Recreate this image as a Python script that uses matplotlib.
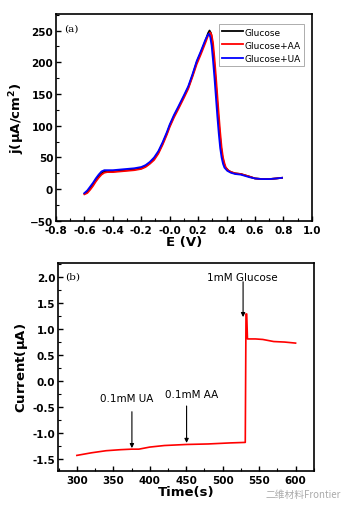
import numpy as np
import matplotlib
matplotlib.use("Agg")
import matplotlib.pyplot as plt

# ---- Data: panel (a) CV curves ----
E_glu = [-0.60, -0.58, -0.56, -0.54, -0.52, -0.50, -0.48, -0.46, -0.44, -0.40, -0.35, -0.30, -0.25, -0.20, -0.17, -0.14, -0.11, -0.08, -0.05, -0.02, 0.00, 0.03, 0.06, 0.10, 0.13, 0.16, 0.19, 0.22, 0.25, 0.27, 0.28, 0.29, 0.30, 0.31, 0.32, 0.33, 0.34, 0.35, 0.36, 0.37, 0.38, 0.39, 0.41, 0.43, 0.46, 0.50, 0.53, 0.56, 0.60, 0.65, 0.70, 0.75, 0.79]
j_glu = [-7, -4, 1, 7, 14, 20, 25, 28, 28, 28, 29, 30, 31, 33, 36, 41, 48, 58, 72, 88, 100, 115, 128, 146, 160, 179, 200, 216, 233, 246, 250, 246, 232, 208, 180, 150, 120, 92, 68, 52, 42, 35, 30, 27, 25, 24, 22, 20, 17, 16, 16, 17, 18]
E_aa = [-0.60, -0.58, -0.56, -0.54, -0.52, -0.50, -0.48, -0.46, -0.44, -0.40, -0.35, -0.30, -0.25, -0.20, -0.17, -0.14, -0.11, -0.08, -0.05, -0.02, 0.00, 0.03, 0.06, 0.10, 0.13, 0.16, 0.19, 0.22, 0.25, 0.27, 0.285, 0.295, 0.305, 0.315, 0.325, 0.335, 0.345, 0.355, 0.365, 0.375, 0.385, 0.395, 0.415, 0.435, 0.46, 0.50, 0.53, 0.56, 0.60, 0.65, 0.70, 0.75, 0.79]
j_aa = [-8, -6, -1, 5, 12, 18, 23, 26, 27, 27, 28, 29, 30, 32, 35, 40, 46, 56, 70, 86, 98, 113, 126, 144, 158, 177, 197, 213, 230, 242, 247, 243, 230, 206, 178, 148, 118, 90, 66, 50, 41, 34, 29, 27, 25, 24, 22, 20, 17, 16, 16, 17, 18]
E_ua = [-0.60, -0.58, -0.56, -0.54, -0.52, -0.50, -0.48, -0.46, -0.44, -0.40, -0.35, -0.30, -0.25, -0.20, -0.17, -0.14, -0.11, -0.08, -0.05, -0.02, 0.00, 0.03, 0.06, 0.10, 0.13, 0.16, 0.19, 0.22, 0.25, 0.265, 0.275, 0.285, 0.295, 0.305, 0.315, 0.325, 0.335, 0.345, 0.355, 0.365, 0.375, 0.385, 0.405, 0.43, 0.46, 0.50, 0.53, 0.56, 0.60, 0.65, 0.70, 0.75, 0.79]
j_ua = [-6, -2, 4, 10, 17, 23, 28, 30, 30, 30, 31, 32, 33, 35, 38, 43, 50, 60, 74, 90, 102, 117, 130, 148, 162, 181, 202, 218, 235, 242, 245, 240, 226, 202, 175, 145, 115, 88, 65, 50, 40, 34, 29, 26, 24, 23, 21, 19, 17, 16, 16, 17, 18]

# ---- Data: panel (b) amperometric response ----
t_b = [300, 320, 340, 360, 375, 385, 400, 420, 450, 480, 510, 531, 532, 533, 534, 545, 555, 570, 585, 600]
i_b = [-1.44, -1.39, -1.35, -1.33, -1.32, -1.32, -1.28, -1.25, -1.23, -1.22, -1.20, -1.19, 1.28, 1.28, 0.80, 0.80, 0.79, 0.75, 0.74, 0.72]

ann_labels = ["0.1mM UA", "0.1mM AA", "1mM Glucose"]
ann_x = [375.5, 450.5, 528]
ann_tail = [-0.60, -0.49, 1.90]
ann_head = [-1.30, -1.20, 1.22]
ann_text_x = [368, 457, 527]
ann_text_y = [-0.34, -0.26, 2.00]

plt.rcParams['font.family'] = ['DejaVu Sans']
fig = plt.figure(figsize=(3.51, 5.06), dpi=100)

tick_fs = 7.5
lab_fs = 9.5

def style(ax):
    ax.tick_params(which='both', direction='in', top=False, right=False)
    ax.tick_params(which='major', length=3.5, width=1.0, labelsize=tick_fs, pad=2)
    ax.tick_params(axis='x', which='major', pad=3)
    ax.tick_params(which='minor', length=2, width=0.8)
    for sp in ax.spines.values():
        sp.set_linewidth(1.2)
    for lbl in ax.get_xticklabels() + ax.get_yticklabels():
        lbl.set_fontweight('bold')

# Panel (a)
ax1 = fig.add_axes([0.1595, 0.5613, 0.729, 0.409])
ax1.plot(E_glu, j_glu, color='black', lw=1.3, label='Glucose')
ax1.plot(E_aa, j_aa, color='red', lw=1.3, label='Glucose+AA')
ax1.plot(E_ua, j_ua, color='blue', lw=1.3, label='Glucose+UA')
ax1.set_xlim(-0.8, 1.0)
ax1.set_ylim(-50, 276)
xt = np.arange(-0.8, 1.01, 0.2)
ax1.set_xticks(xt)
ax1.set_xticklabels([f"{v:.1f}" for v in xt])
ax1.set_yticks(np.arange(-50, 251, 50))
ax1.xaxis.set_minor_locator(matplotlib.ticker.AutoMinorLocator(2))
ax1.yaxis.set_minor_locator(matplotlib.ticker.AutoMinorLocator(2))
ax1.set_xlabel('E (V)', fontsize=lab_fs, fontweight='bold', labelpad=0)
ax1.set_ylabel(r'j($\mathbf{\mu}$A/cm$^\mathbf{2}$)', fontsize=lab_fs, fontweight='bold', labelpad=2)
style(ax1)
ax1.text(0.03, 0.955, '(a)', transform=ax1.transAxes, family='DejaVu Serif', fontsize=7.5, va='top')
leg = ax1.legend(loc='upper right', bbox_to_anchor=(0.97, 0.95), fontsize=6.5, frameon=True,
                 fancybox=False, edgecolor='#888888', handlelength=2.3, handletextpad=0.2,
                 borderpad=0.35, labelspacing=0.45, borderaxespad=0)
leg.get_frame().set_linewidth(0.6)

# Panel (b)
ax2 = fig.add_axes([0.165, 0.0672, 0.729, 0.411])
ax2.plot(t_b, i_b, color='red', lw=1.2)
ax2.set_xlim(274, 625)
ax2.set_ylim(-1.74, 2.26)
ax2.set_xticks(np.arange(300, 601, 50))
yt = np.arange(-1.5, 2.01, 0.5)
ax2.set_yticks(yt)
ax2.set_yticklabels([f"{v:.1f}" for v in yt])
ax2.xaxis.set_minor_locator(matplotlib.ticker.AutoMinorLocator(2))
ax2.yaxis.set_minor_locator(matplotlib.ticker.AutoMinorLocator(2))
ax2.set_xlabel('Time(s)', fontsize=lab_fs, fontweight='bold', labelpad=0)
ax2.set_ylabel(r'Current($\mathbf{\mu}$A)', fontsize=lab_fs, fontweight='bold', labelpad=2)
style(ax2)
ax2.text(0.03, 0.96, '(b)', transform=ax2.transAxes, family='DejaVu Serif', fontsize=7.5, va='top')
for lab, x, yt_, yh, tx, ty in zip(ann_labels, ann_x, ann_tail, ann_head, ann_text_x, ann_text_y):
    ax2.annotate('', xy=(x, yh), xytext=(x, yt_),
                 arrowprops=dict(arrowstyle='-|>', color='black', lw=0.8,
                                 mutation_scale=6, shrinkA=0, shrinkB=0))
    ax2.text(tx, ty, lab, ha='center', va='center', fontsize=7.5)

fig.text(0.97, 0.022, '二维材料Frontier', ha='right', va='center', fontsize=7,
         color='#aaaaaa', family=['Noto Sans CJK SC', 'DejaVu Sans'])

fig.savefig('out.png', dpi=100)
